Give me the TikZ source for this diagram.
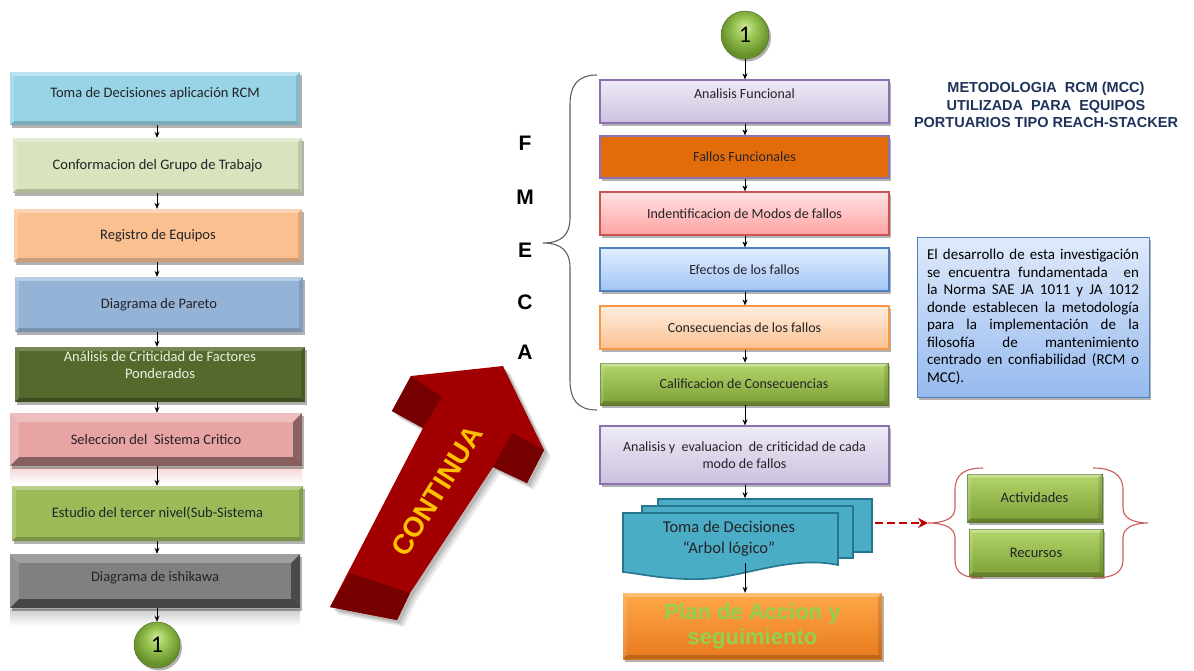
\documentclass[tikz,border=0pt]{standalone}
\usepackage{fontspec}
\setmainfont{Carlito}
\newfontfamily\arialfont{Liberation Sans}
\usetikzlibrary{shadows,arrows.meta,calc}

% palette
\definecolor{cToma}{RGB}{152,212,230}
\definecolor{cConf}{RGB}{215,228,189}
\definecolor{cReg}{RGB}{250,192,144}
\definecolor{cPar}{RGB}{149,179,215}
\definecolor{cAnal}{RGB}{85,105,45}
\definecolor{cAnalTxt}{RGB}{235,241,222}
\definecolor{cSel}{RGB}{232,163,163}
\definecolor{cEst}{RGB}{155,187,89}
\definecolor{cIsh}{RGB}{128,128,128}
\definecolor{txtDark}{RGB}{35,35,40}
\definecolor{lavTop}{RGB}{238,234,246}
\definecolor{lavBot}{RGB}{204,193,222}
\definecolor{lavLine}{RGB}{140,112,175}
\definecolor{orgFill}{RGB}{227,108,10}
\definecolor{pinkTop}{RGB}{255,226,226}
\definecolor{pinkBot}{RGB}{255,162,162}
\definecolor{pinkLine}{RGB}{200,85,82}
\definecolor{bluTop}{RGB}{226,237,255}
\definecolor{bluBot}{RGB}{162,197,245}
\definecolor{bluLine}{RGB}{79,129,189}
\definecolor{pchTop}{RGB}{253,238,224}
\definecolor{pchBot}{RGB}{252,192,142}
\definecolor{pchLine}{RGB}{247,150,70}
\definecolor{grnTop}{RGB}{180,214,106}
\definecolor{grnBot}{RGB}{124,160,54}
\definecolor{grnLine}{RGB}{100,130,42}
\definecolor{infoTop}{RGB}{224,234,251}
\definecolor{infoBot}{RGB}{150,186,238}
\definecolor{tealFill}{RGB}{75,172,198}
\definecolor{tealLine}{RGB}{38,118,142}
\definecolor{planTop}{RGB}{255,168,72}
\definecolor{planBot}{RGB}{232,122,30}
\definecolor{planTxt}{RGB}{146,208,80}
\definecolor{ballHi}{RGB}{208,232,155}
\definecolor{ballMid}{RGB}{150,195,80}
\definecolor{ballEdge}{RGB}{104,145,44}
\definecolor{arrRed}{RGB}{162,0,0}
\definecolor{arrDark}{RGB}{118,0,0}
\definecolor{gold}{RGB}{255,192,0}
\definecolor{titleBlue}{RGB}{30,50,90}
\definecolor{braceRed}{RGB}{205,90,90}
\definecolor{braceGray}{RGB}{95,95,95}
\definecolor{dashRed}{RGB}{192,0,0}

\pgfdeclareradialshading{greenball}{\pgfpoint{0bp}{9bp}}{%
  color(0bp)=(ballHi); color(12bp)=(ballMid); color(25bp)=(ballEdge); color(50bp)=(ballEdge)}

% raised edges on a rectangular node: node, width, top/left/bottom/right opacities
\newcommand\bevelsides[6]{%
  \fill[white,opacity=#3] (#1.north west) -- (#1.north east)
    -- ([xshift=-#2pt,yshift=-#2pt]#1.north east) -- ([xshift=#2pt,yshift=-#2pt]#1.north west) -- cycle;
  \fill[white,opacity=#4] (#1.north west) -- ([xshift=#2pt,yshift=-#2pt]#1.north west)
    -- ([xshift=#2pt,yshift=#2pt]#1.south west) -- (#1.south west) -- cycle;
  \fill[black,opacity=#5] (#1.south west) -- ([xshift=#2pt,yshift=#2pt]#1.south west)
    -- ([xshift=-#2pt,yshift=#2pt]#1.south east) -- (#1.south east) -- cycle;
  \fill[black,opacity=#6] (#1.north east) -- ([xshift=-#2pt,yshift=-#2pt]#1.north east)
    -- ([xshift=-#2pt,yshift=#2pt]#1.south east) -- (#1.south east) -- cycle;
}

\tikzset{
  shad/.style={drop shadow={shadow xshift=2pt,shadow yshift=-2.5pt,opacity=.3,fill=black}},
  lbox/.style={rectangle, inner sep=2pt, align=center, text=txtDark,
    font=\fontsize{14.5}{17}\selectfont, shad},
  ltext/.style={inner sep=0pt, align=center, font=\fontsize{14.5}{17}\selectfont},
  rbox/.style={rectangle, inner sep=2pt, align=center, line width=1.1pt, text=txtDark,
    font=\fontsize{14}{17}\selectfont, shad, minimum width=289pt},
  gbox/.style={rectangle, inner sep=2pt, align=center, text=txtDark, draw=grnLine, line width=.6pt,
    top color=grnTop, bottom color=grnBot, font=\fontsize{14.5}{17}\selectfont, shad},
  ballnode/.style={circle, inner sep=0pt, shading=greenball, draw=ballEdge!80!black, line width=.5pt,
    font=\fontsize{24}{24}\selectfont, text=black, shad},
  flowarr/.style={-{Stealth[length=6pt,width=5pt]}, line width=.9pt, black},
  docsheet/.style={rectangle, fill=tealFill, draw=tealLine, line width=1.6pt, inner sep=0pt},
  fletter/.style={font=\arialfont\bfseries\fontsize{21}{21}\selectfont, text=black},
}

\begin{document}
\begin{tikzpicture}[x=1pt,y=-1pt]
\useasboundingbox (0,0) rectangle (1194,670);

% ---------------- left column ----------------
\node[lbox, fill=cToma, minimum width=290pt, minimum height=53pt] (b1) at (155,98.5) {};
\bevelsides{b1}{4}{.35}{.2}{.18}{.12}
\node[ltext, text=txtDark] (b1t) at ([yshift=5pt]b1.center) {Toma de Decisiones aplicación RCM};
\node[lbox, fill=cConf, minimum width=289pt, minimum height=55pt] (b2) at (157.5,165.5) {Conformacion del Grupo de Trabajo};
\bevelsides{b2}{4}{.35}{.2}{.18}{.12}
\node[lbox, fill=cReg, minimum width=288pt, minimum height=53pt] (b3) at (158,235.5) {Registro de Equipos};
\bevelsides{b3}{4}{.35}{.2}{.18}{.12}
\node[lbox, fill=cPar, minimum width=288pt, minimum height=55pt] (b4) at (159,304.5) {Diagrama de Pareto};
\bevelsides{b4}{4}{.35}{.2}{.18}{.12}
\node[lbox, fill=cAnal, minimum width=290pt, minimum height=55pt] (b5) at (160,374.5) {};
\bevelsides{b5}{4}{.2}{.12}{.25}{.15}
\node[ltext, text=cAnalTxt] (b5t) at ([yshift=9pt]b5.center) {Análisis de Criticidad de Factores\\Ponderados};

% reflections under the bevelled boxes
\shade[top color=cSel!45, bottom color=white] (10,467) rectangle (302,484);
\shade[top color=cIsh!40, bottom color=white] (10,609) rectangle (300,626);

\node[lbox, fill=cSel, minimum width=292pt, minimum height=53pt] (b6) at (156,439.5) {Seleccion del~ Sistema Critico};
\bevelsides{b6}{9}{.3}{.2}{.42}{.4}
\node[lbox, fill=cEst, minimum width=291pt, minimum height=55pt] (b7) at (157.5,513.5) {Estudio del tercer nivel(Sub-Sistema};
\bevelsides{b7}{4}{.3}{.18}{.2}{.14}
\node[lbox, fill=cIsh, minimum width=290pt, minimum height=54pt] (b8) at (155,581) {};
\bevelsides{b8}{9}{.25}{.15}{.45}{.42}
\node[ltext, text=txtDark] (b8t) at ([yshift=3pt]b8.center) {Diagrama de ishikawa};

\node[ballnode, minimum size=46pt] (c1) at (157,645) {1};

\foreach \u/\v in {b1/b2,b2/b3,b3/b4,b4/b5,b5/b6,b6/b7,b7/b8}
  \draw[flowarr] (\u.south -| c1) -- (\v.north -| c1);
\draw[flowarr] (b8.south -| c1) -- (c1.north);

% ---------------- CONTINUA arrow ----------------
\foreach \s/\o in {7/.08,5/.1,3/.12}
  \fill[black,opacity=\o,shift={(\s pt,-\s pt)}]
    (503,366) -- (544,450) -- (527,483) -- (493,467) -- (410,593) -- (397,620)
    -- (330,607) -- (423,428) -- (392,411) -- (411,376) -- cycle;
\fill[arrRed] (503,366) -- (544,450) -- (527,483) -- (493,467) -- (410,593) -- (397,620)
    -- (330,607) -- (423,428) -- (392,411) -- (411,376) -- cycle;
\fill[arrDark] (411,376) -- (442,397) -- (423,428) -- (392,411) -- cycle;
\fill[arrDark] (512,433) -- (544,450) -- (527,483) -- (493,467) -- cycle;
\fill[arrDark] (350,573) -- (410,593) -- (397,620) -- (330,607) -- cycle;
\node[rotate=58, text=gold, font=\arialfont\bfseries\fontsize{28}{28}\selectfont, inner sep=0pt]
  (cont) at (437,491) {CONTINUA};

% ---------------- FMECA ----------------
\node[fletter] (lf) at (525,143) {F};
\node[fletter] (lm) at (525,197) {M};
\node[fletter] (le) at (525,250) {E};
\node[fletter] (lc) at (525,302) {C};
\node[fletter] (la) at (525,352) {A};
\draw[braceGray, line width=1.1pt]
  (597,75) .. controls (578,75) and (570,85) .. (570,105) -- (570,218)
  .. controls (570,236) and (560,243) .. (543,243)
  .. controls (560,243) and (570,250) .. (570,268) -- (570,380)
  .. controls (570,400) and (578,410) .. (597,410);

% ---------------- right column ----------------
\node[ballnode, minimum size=48pt] (c2) at (745,35) {1};
\node[rbox, top color=lavTop, bottom color=lavBot, draw=lavLine, minimum height=43pt] (r1) at (744.5,101.5) {};
\node[ltext, text=txtDark, font=\fontsize{14}{17}\selectfont] (r1t) at ([yshift=8pt]r1.center) {Analisis Funcional};
\node[rbox, fill=orgFill, draw=lavLine, minimum height=42pt] (r2) at (744.5,157) {Fallos Funcionales};
\node[rbox, top color=pinkTop, bottom color=pinkBot, draw=pinkLine, minimum height=43pt] (r3) at (744.5,213.5) {Indentificacion de Modos de fallos};
\node[rbox, top color=bluTop, bottom color=bluBot, draw=bluLine, minimum height=43pt] (r4) at (744.5,269.5) {Efectos de los fallos};
\node[rbox, top color=pchTop, bottom color=pchBot, draw=pchLine, minimum height=43pt] (r5) at (744.5,327.5) {Consecuencias de los fallos};
\node[gbox, minimum width=288pt, minimum height=42pt, font=\fontsize{14}{17}\selectfont] (r6) at (744,384) {Calificacion de Consecuencias};
\bevelsides{r6}{4}{.3}{.15}{.2}{.12}
\node[rbox, top color=lavTop, bottom color=lavBot, draw=lavLine, minimum height=58pt] (r7) at (744.5,455) {Analisis y~ evaluacion~ de criticidad de cada\\modo de fallos};

% stacked documents
\node[docsheet, minimum width=214pt, minimum height=53pt] (doc3) at (765,525.5) {};
\node[docsheet, minimum width=211pt, minimum height=52pt] (doc2) at (747.5,532) {};
\fill[tealFill] (623,513) -- (838,513) -- (838,565)
  .. controls (790,555) and (742,578) .. (702,579)
  .. controls (666,580) and (642,574) .. (623,572) -- cycle;
\draw[tealLine, line width=1.6pt] (623,513) -- (838,513) -- (838,565)
  .. controls (790,555) and (742,578) .. (702,579)
  .. controls (666,580) and (642,574) .. (623,572) -- cycle;
\node[align=center, text=txtDark, font=\fontsize{16.5}{21}\selectfont] (doct) at (729,538.5) {Toma de Decisiones\\“Arbol lógico”};
\coordinate (docout) at (745,563);

\node[rectangle, top color=planTop, bottom color=planBot, minimum width=259pt, minimum height=66pt,
  align=center, text=planTxt, font=\arialfont\bfseries\fontsize{22}{25}\selectfont, shad] (plan) at (752.5,626) {Plan de Accion y\\seguimiento};
\bevelsides{plan}{4}{.25}{.12}{.18}{.12}

\foreach \u/\v in {r1/r2,r2/r3,r3/r4,r4/r5,r5/r6,r6/r7}
  \draw[flowarr] (\u.south -| c2) -- (\v.north -| c2);
\draw[flowarr] (c2.south) -- (c2.south |- r1.north);
\draw[flowarr] (r7.south -| c2) -- (doc3.north -| c2);
\draw[flowarr] (docout) -- (docout |- plan.north);

% ---------------- actions ----------------
\node[gbox, minimum width=135pt, minimum height=48pt] (act) at (1034.5,498) {Actividades};
\bevelsides{act}{4}{.3}{.15}{.2}{.12}
\node[gbox, minimum width=134pt, minimum height=47pt] (rec) at (1036,552.5) {Recursos};
\bevelsides{rec}{4}{.3}{.15}{.2}{.12}
\coordinate (dashstart) at (875,523);
\coordinate (lbtip) at (928,523);
\draw[dashRed, line width=2.6pt, dash pattern=on 8pt off 4pt, -{Stealth[length=10pt,width=10pt]}] (dashstart) -- (lbtip);
\draw[braceRed, line width=1.1pt]
  (983,468) .. controls (965,468) and (955,474) .. (955,490) -- (955,508)
  .. controls (955,518) and (945,523) .. (928,523)
  .. controls (945,523) and (955,528) .. (955,538) -- (955,560)
  .. controls (955,574) and (965,578) .. (983,578);
\draw[braceRed, line width=1.1pt]
  (1093,468) .. controls (1111,468) and (1123,474) .. (1123,490) -- (1123,508)
  .. controls (1123,518) and (1133,523) .. (1148,523)
  .. controls (1133,523) and (1123,528) .. (1123,538) -- (1123,560)
  .. controls (1123,574) and (1111,578) .. (1093,578);

% ---------------- title and note ----------------
\node[align=center, text=titleBlue, font=\arialfont\bfseries\fontsize{14.5}{17.5}\selectfont] (title) at (1046,105)
  {METODOLOGIA~ RCM (MCC)\\UTILIZADA~ PARA~ EQUIPOS\\PORTUARIOS TIPO REACH-STACKER};

\node[rectangle, top color=infoTop, bottom color=infoBot, draw=bluLine, line width=.9pt,
  minimum width=232pt, minimum height=160pt, shad] (info) at (1033,317) {};
\node[align=left, text=black, font=\fontsize{15}{17.5}\selectfont, inner sep=0pt] (infot) at (1033,317) {%
\makebox[212pt][s]{El desarrollo de esta investigación}\\
\makebox[212pt][s]{se encuentra fundamentada \ en}\\
\makebox[212pt][s]{la Norma SAE JA 1011 y JA 1012}\\
\makebox[212pt][s]{donde establecen la metodología}\\
\makebox[212pt][s]{para la implementación de la}\\
\makebox[212pt][s]{filosofía de mantenimiento}\\
\makebox[212pt][s]{centrado en confiabilidad (RCM o}\\
MCC).};

\end{tikzpicture}
\end{document}
